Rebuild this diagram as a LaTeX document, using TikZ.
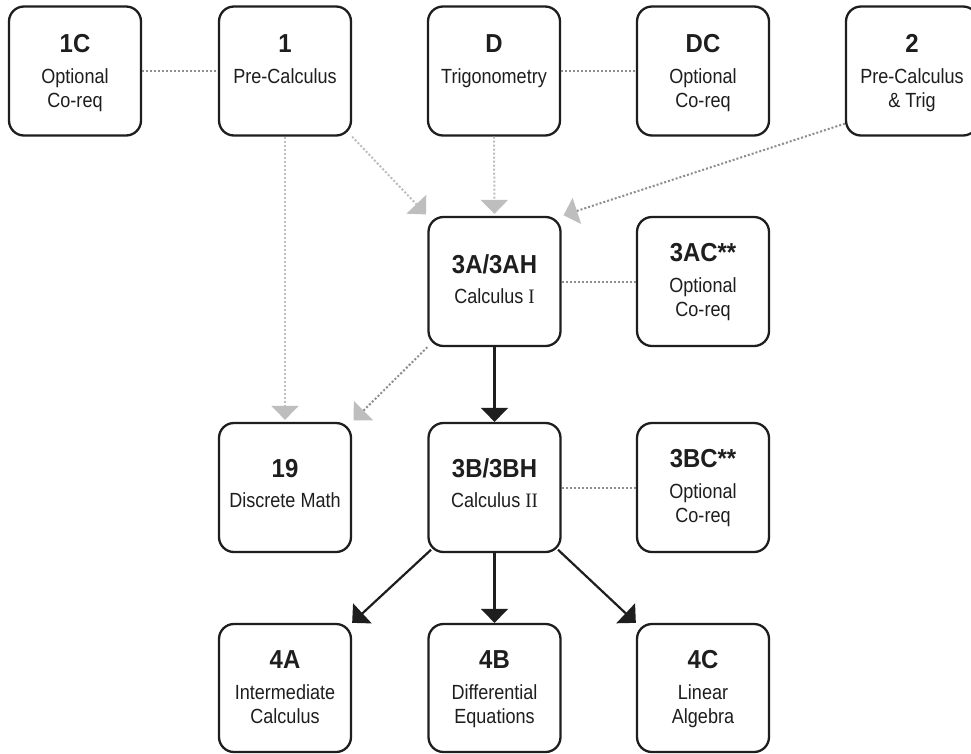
\documentclass[tikz,border=0pt]{standalone}
\usepackage{fontspec}
\setmainfont{Liberation Sans}
\newfontfamily\ttlfont{Liberation Sans}[FakeStretch=0.92]
\newfontfamily\subfont{Liberation Sans}[FakeStretch=0.88]
\newfontfamily\serifrm{Liberation Serif}[FakeStretch=0.92]
\usetikzlibrary{arrows.meta,calc}
\definecolor{boxline}{HTML}{1E1E1E}
\definecolor{lightdot}{HTML}{BDBDBD}
\definecolor{darkdot}{HTML}{8E8E8E}
\definecolor{headgray}{HTML}{BEBEBE}
\begin{document}
\begin{tikzpicture}[x=1pt,y=-1pt,
  box/.style={draw=boxline, line width=2.3pt, rounded corners=15pt, fill=white,
    minimum width=132pt, minimum height=129pt, inner sep=0pt},
  ttl/.style={anchor=base, font=\ttlfont\fontsize{26}{30}\selectfont\bfseries, inner sep=0pt, text=boxline},
  sub/.style={anchor=base, font=\subfont\fontsize{20.5}{24}\selectfont, inner sep=0pt, text=boxline},
  coreq/.style={draw=darkdot, line width=2pt, dash pattern=on 2pt off 2pt},
  pre/.style={draw=lightdot, line width=2pt, dash pattern=on 2pt off 2pt,
    -{Triangle[width=27pt,length=14pt,color=headgray]}, shorten >=2pt},
  predark/.style={pre, draw=darkdot},
  req/.style={draw=boxline, line width=2.2pt, -{Triangle[width=27pt,length=14pt]}},
]
\useasboundingbox[fill=white] (0,0) rectangle (971,753);

% boxes
\node[box] (c1c) at (75,71) {};
\node[box] (p1) at (285,71) {};
\node[box] (pD) at (494,71) {};
\node[box] (pDC) at (703,71) {};
\node[box] (p2) at (912,71) {};
\node[box] (c3a) at (494.5,281.5) {};
\node[box] (c3ac) at (703,281.5) {};
\node[box] (d19) at (285,487.5) {};
\node[box] (c3b) at (494.5,487.5) {};
\node[box] (c3bc) at (703,487.5) {};
\node[box, minimum height=128pt] (c4a) at (285,688) {};
\node[box, minimum height=128pt] (c4b) at (494.5,688) {};
\node[box, minimum height=128pt] (c4c) at (703,688) {};

% texts, top row
\node[ttl] (t1c) at ($(c1c.north)+(0,47)$) {1C};
\node[sub] (t1ca) at ($(c1c.north)+(0,78)$) {Optional};
\node[sub] (t1cb) at ($(c1c.north)+(0,102)$) {Co-req};
\node[ttl] (tp1) at ($(p1.north)+(0,47)$) {1};
\node[sub] (tp1a) at ($(p1.north)+(0,78)$) {Pre-Calculus};
\node[ttl] (tpD) at ($(pD.north)+(0,47)$) {D};
\node[sub] (tpDa) at ($(pD.north)+(0,78)$) {Trigonometry};
\node[ttl] (tpDC) at ($(pDC.north)+(0,47)$) {DC};
\node[sub] (tpDCa) at ($(pDC.north)+(0,78)$) {Optional};
\node[sub] (tpDCb) at ($(pDC.north)+(0,102)$) {Co-req};
\node[ttl] (tp2) at ($(p2.north)+(0,47)$) {2};
\node[sub] (tp2a) at ($(p2.north)+(0,78)$) {Pre-Calculus};
\node[sub] (tp2b) at ($(p2.north)+(0,102)$) {\& Trig};

% middle rows
\node[ttl] (t3a) at ($(c3a.north)+(0,58)$) {3A/3AH};
\node[sub] (t3aa) at ($(c3a.north)+(0,88)$) {Calculus {\serifrm I}};
\node[ttl] (t3ac) at ($(c3ac.north)+(0,46)$) {3AC**};
\node[sub] (t3aca) at ($(c3ac.north)+(0,77)$) {Optional};
\node[sub] (t3acb) at ($(c3ac.north)+(0,101)$) {Co-req};
\node[ttl] (t19) at ($(d19.north)+(0,56)$) {19};
\node[sub] (t19a) at ($(d19.north)+(0,86)$) {Discrete Math};
\node[ttl] (t3b) at ($(c3b.north)+(0,56)$) {3B/3BH};
\node[sub] (t3ba) at ($(c3b.north)+(0,86)$) {Calculus {\serifrm II}};
\node[ttl] (t3bc) at ($(c3bc.north)+(0,46)$) {3BC**};
\node[sub] (t3bca) at ($(c3bc.north)+(0,77)$) {Optional};
\node[sub] (t3bcb) at ($(c3bc.north)+(0,101)$) {Co-req};

% bottom row
\node[ttl] (t4a) at ($(c4a.north)+(0,46)$) {4A};
\node[sub] (t4aa) at ($(c4a.north)+(0,77)$) {Intermediate};
\node[sub] (t4ab) at ($(c4a.north)+(0,101)$) {Calculus};
\node[ttl] (t4b) at ($(c4b.north)+(0,46)$) {4B};
\node[sub] (t4ba) at ($(c4b.north)+(0,77)$) {Differential};
\node[sub] (t4bb) at ($(c4b.north)+(0,101)$) {Equations};
\node[ttl] (t4c) at ($(c4c.north)+(0,46)$) {4C};
\node[sub] (t4ca) at ($(c4c.north)+(0,77)$) {Linear};
\node[sub] (t4cb) at ($(c4c.north)+(0,101)$) {Algebra};

% co-requisite links
\draw[coreq] (c1c.east) -- (p1.west);
\draw[coreq] (pD.east) -- (pDC.west);
\draw[coreq] (c3a.east) -- (c3ac.west);
\draw[coreq] (c3b.east) -- (c3bc.west);

% prerequisite (dotted) arrows
\draw[pre] (p1.south) -- (d19.north);
\draw[pre] (p1.south east) -- (c3a.north west);
\draw[pre] (pD.south) -- (c3a.north);
\draw[predark] ([yshift=13pt]p2.south west) -- (c3a.north east);
\draw[predark] (c3a.south west) -- (d19.north east);

% required arrows
\draw[req] (c3a.south) -- (c3b.north);
\draw[req, shorten <=-5pt] (c3b.south west) -- (c4a.north east);
\draw[req] (c3b.south) -- (c4b.north);
\draw[req, shorten <=-5pt] (c3b.south east) -- (c4c.north west);
\end{tikzpicture}
\end{document}
